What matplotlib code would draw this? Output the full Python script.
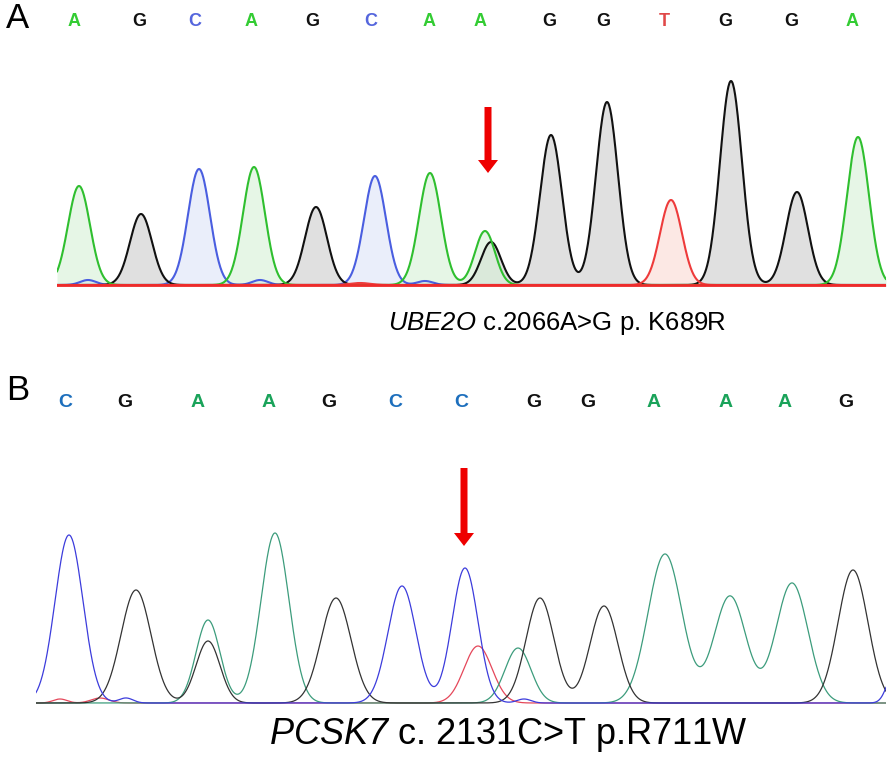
# Sanger chromatograms for the UBE2O and PCSK7 variants
import matplotlib.pyplot as plt
import numpy as np

plt.rcParams['font.family'] = ['Liberation Sans', 'DejaVu Sans']
# math text is only used for the gene names, so make it all italic (digits too)
plt.rcParams['mathtext.fontset'] = 'custom'
plt.rcParams['mathtext.it'] = 'Liberation Sans:italic'
plt.rcParams['mathtext.rm'] = 'Liberation Sans:italic'

# ---- Panel A: UBE2O c.2066A>G ----
a_bases = ['A', 'G', 'C', 'A', 'G', 'C', 'A', 'A', 'G', 'G', 'T', 'G', 'G', 'A']
a_base_pos = [74, 139, 195, 251, 312, 371, 429, 480, 549, 603, 664, 725, 791, 852]

# peaks per channel: (scan position, height, width)
a_peaks = {
    'A': [(79, 99, 11), (254, 118, 11), (430, 112, 11), (485, 54, 10), (858, 148, 11)],
    'G': [(141, 71, 11), (316, 78, 11), (491, 43, 10), (551, 150, 11), (607, 183, 11),
          (731, 204, 11), (797, 93, 11)],
    'C': [(88, 5, 8), (199, 116, 11), (260, 5, 8), (375, 109, 11), (425, 4, 8)],
    'T': [(671, 85, 11), (360, 2, 10)],
}
a_caption = 'c.2066A>G p. K689R'
a_gene = 'UBE2O'
a_mutation_pos = 488

# ---- Panel B: PCSK7 c.2131C>T ----
b_bases = ['C', 'G', 'A', 'A', 'G', 'C', 'C', 'G', 'G', 'A', 'A', 'A', 'G']
b_base_pos = [65, 125, 198, 269, 329, 395, 461, 534, 588, 654, 726, 785, 846]

b_peaks = {
    'A': [(208, 83, 12), (275, 170, 14), (518, 55, 13), (665, 149, 17), (730, 107, 16),
          (792, 120, 16)],
    'G': [(136, 113, 15), (208, 62, 12), (336, 105, 15), (540, 105, 14), (604, 97, 14),
          (853, 133, 15)],
    'C': [(69, 168, 14), (126, 5, 7), (402, 117, 14), (465, 135, 13), (524, 4, 7),
          (894, 30, 7)],
    'T': [(60, 4, 7), (100, 5, 9), (478, 57, 14)],
}
b_caption = 'c. 2131C>T p.R711W'
b_gene = 'PCSK7'
b_mutation_pos = 464

a_colors = {'A': '#2fbf2f', 'G': '#111111', 'C': '#4a5ee0', 'T': '#ee3b3b'}
a_fills = {'A': '#d6f0d6', 'G': '#cccccc', 'C': '#dce3f7', 'T': '#fbdad2'}
a_letter_colors = {'A': '#33cc33', 'G': '#111111', 'C': '#5566dd', 'T': '#e04848'}
b_colors = {'A': '#3c9c7c', 'G': '#333333', 'C': '#3c3cdc', 'T': '#e5475a'}
b_letter_colors = {'A': '#1aa35a', 'G': '#111111', 'C': '#1d6fbd', 'T': '#e04848'}


def trace(x, peaks):
    y = np.full_like(x, 1.0)
    for mu, h, w in peaks:
        y += h * np.exp(-(x - mu) ** 2 / (2 * w ** 2))
    return y


W, H = 896, 758
fig = plt.figure(figsize=(W / 100, H / 100), dpi=100)


def px_axes(x0, x1, y_top, y_base, pad=4):
    # axes whose data units are pixels, baseline at y_base
    ax = fig.add_axes([x0 / W, 1 - (y_base + pad) / H, (x1 - x0) / W, (y_base + pad - y_top) / H])
    ax.set_xlim(x0, x1)
    ax.set_ylim(-pad, y_base - y_top)
    ax.axis('off')
    return ax


# Panel A
axA = px_axes(57, 886, 30, 286)
xa = np.linspace(57, 886, 1600)
for base in ['G', 'C', 'A', 'T']:
    ya = trace(xa, a_peaks[base])
    axA.fill_between(xa, 0, ya, color=a_fills[base], alpha=0.6, lw=0)
for base in ['C', 'G', 'A', 'T']:
    ya = trace(xa, a_peaks[base])
    axA.plot(xa, ya, color=a_colors[base], lw=1.5, solid_capstyle='round')
axA.plot(xa, np.full_like(xa, 0.5), color='#ee2b2b', lw=2)
for b, x in zip(a_bases, a_base_pos):
    fig.text(x / W, 1 - 22 / H, b, color=a_letter_colors[b], fontsize=13,
             fontweight='bold', ha='center', va='center')
axA.arrow(a_mutation_pos, 286 - 107, 0, -66, width=7, head_width=20, head_length=13,
          length_includes_head=True, color='#ee0000', lw=0)
fig.text(6 / W, 1 - 19 / H, 'A', fontsize=25, ha='left', va='center')
fig.text(557 / W, 1 - 323 / H, r'$\mathrm{' + a_gene + '}$' + ' ' + a_caption,
         fontsize=18.5, ha='center', va='center')

# Panel B
axB = px_axes(36, 886, 440, 704)
xb = np.linspace(36, 886, 1600)
for base in ['T', 'A', 'G', 'C']:
    yb = trace(xb, b_peaks[base])
    axB.plot(xb, yb, color=b_colors[base], lw=0.9)
for b, x in zip(b_bases, b_base_pos):
    fig.text(x / W, 1 - 402 / H, b, color=b_letter_colors[b], fontsize=14,
             fontweight='bold', ha='center', va='center')
axB.arrow(b_mutation_pos, 704 - 468, 0, -78, width=7, head_width=20, head_length=13,
          length_includes_head=True, color='#ee0000', lw=0)
fig.text(6 / W, 1 - 391 / H, 'B', fontsize=25, ha='left', va='center')
fig.text(508 / W, 1 - 735 / H, r'$\mathrm{' + b_gene + '}$' + ' ' + b_caption,
         fontsize=26, ha='center', va='center')

fig.savefig('out.png', dpi=100, facecolor='white')
